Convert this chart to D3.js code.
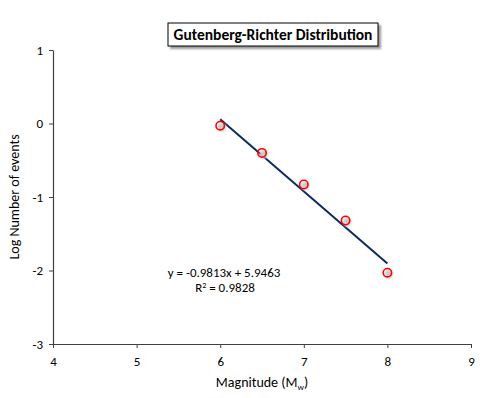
<!DOCTYPE html>
<html>
<head>
<meta charset="utf-8">
<script src="https://cdn.jsdelivr.net/npm/d3@7"></script>
<style>
  body { margin: 0; background: #fff; }
  text { font-family: Calibri, Carlito, "Open Sans", sans-serif; fill: #000; }
</style>
</head>
<body>
<div id="chart"></div>
<script>
// magnitudes and log10 of event counts
const magnitudes = [6, 6.5, 7, 7.5, 8];
const logCounts = [-0.03, -0.40, -0.83, -1.32, -2.03];
const xTicks = [4, 5, 6, 7, 8, 9];
const yTicks = [1, 0, -1, -2, -3];
const slope = -0.9813, intercept = 5.9463, r2 = 0.9828;

const width = 500, height = 398;
const svg = d3.select("#chart").append("svg")
  .attr("width", width).attr("height", height);

const defs = svg.append("defs");
defs.append("filter").attr("id", "blur")
  .append("feGaussianBlur").attr("stdDeviation", 1.2);

const x = d3.scaleLinear().domain([4, 9]).range([53, 471]);
const y = d3.scaleLinear().domain([-3, 1]).range([344, 50]);

// axes
const xAxis = svg.append("g").attr("transform", `translate(0,${y(-3)})`)
  .call(d3.axisBottom(x).tickValues(xTicks).tickSizeInner(4).tickSizeOuter(0).tickPadding(9)
    .tickFormat(d3.format("d")));
const yAxis = svg.append("g").attr("transform", `translate(${x(4)},0)`)
  .call(d3.axisLeft(y).tickValues(yTicks).tickSizeInner(4).tickSizeOuter(0).tickPadding(6)
    .tickFormat(d => d < 0 ? "-" + Math.abs(d) : d));
[xAxis, yAxis].forEach(g => {
  g.select(".domain").attr("stroke", "#404040").attr("stroke-width", 1.2);
  g.selectAll(".tick line").attr("stroke", "#404040");
  g.selectAll(".tick text").style("font-size", "13px");
});

// axis titles
const xt = svg.append("text").attr("x", 262).attr("y", 387)
  .attr("text-anchor", "middle").style("font-size", "14px");
xt.append("tspan").text("Magnitude (M");
xt.append("tspan").text("w").attr("dy", 3).style("font-size", "9px");
xt.append("tspan").text(")").attr("dy", -3);

svg.append("text")
  .attr("transform", `translate(19,${(y(1) + y(-3)) / 2}) rotate(-90)`)
  .attr("text-anchor", "middle").style("font-size", "14px")
  .text("Log Number of events");

// title box
const tg = svg.append("g");
tg.append("rect").attr("x", 170).attr("y", 25).attr("width", 211).attr("height", 24)
  .attr("fill", "#999").attr("filter", "url(#blur)");
tg.append("rect").attr("x", 168).attr("y", 23).attr("width", 210).attr("height", 23)
  .attr("fill", "#fff").attr("stroke", "#000").attr("stroke-width", 1);
tg.append("text").attr("x", 273).attr("y", 40).attr("text-anchor", "middle")
  .style("font-size", "15.5px").style("font-weight", "bold")
  .text("Gutenberg-Richter Distribution");

// trendline
const fitX = d3.extent(magnitudes);
svg.append("line")
  .attr("x1", x(fitX[0])).attr("y1", y(slope * fitX[0] + intercept))
  .attr("x2", x(fitX[1])).attr("y2", y(slope * fitX[1] + intercept))
  .attr("stroke", "#0d2a5e").attr("stroke-width", 2);

// markers with shadow
const pts = magnitudes.map((m, i) => ({ m, v: logCounts[i] }));
svg.selectAll("circle.shadow").data(pts).join("circle")
  .attr("class", "shadow")
  .attr("cx", d => x(d.m) + 1.5).attr("cy", d => y(d.v) + 1.5).attr("r", 4.2)
  .attr("fill", "#ccc").attr("filter", "url(#blur)");
svg.selectAll("circle.pt").data(pts).join("circle")
  .attr("class", "pt")
  .attr("cx", d => x(d.m)).attr("cy", d => y(d.v)).attr("r", 4.2)
  .attr("fill", "none").attr("stroke", "#ff0000").attr("stroke-width", 1.6);

// equation label
svg.append("text").attr("x", 224).attr("y", 277).attr("text-anchor", "middle")
  .style("font-size", "13px")
  .text(`y = ${slope}x + ${intercept}`);
const rt = svg.append("text").attr("x", 225).attr("y", 292).attr("text-anchor", "middle")
  .style("font-size", "13px");
rt.append("tspan").text("R");
rt.append("tspan").text("2").attr("dy", -4).style("font-size", "8px");
rt.append("tspan").text(` = ${r2}`).attr("dy", 4);
</script>
</body>
</html>
